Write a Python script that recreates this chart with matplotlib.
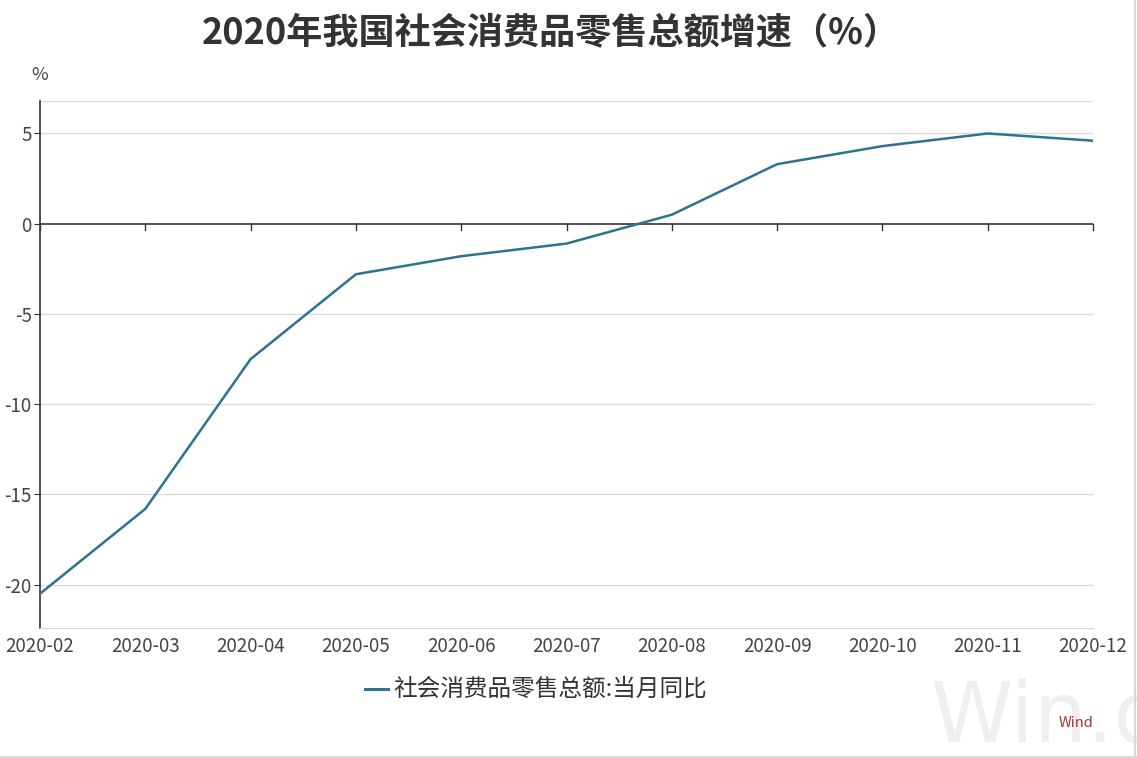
import matplotlib
matplotlib.use("Agg")
import matplotlib.pyplot as plt

months = ["2020-02", "2020-03", "2020-04", "2020-05", "2020-06", "2020-07",
          "2020-08", "2020-09", "2020-10", "2020-11", "2020-12"]
values = [-20.5, -15.8, -7.5, -2.8, -1.8, -1.1, 0.5, 3.3, 4.3, 5.0, 4.6]
yticks = [5, 0, -5, -10, -15, -20]
title = "2020年我国社会消费品零售总额增速（%）"
series_name = "社会消费品零售总额:当月同比"

plt.rcParams['font.family'] = ['Noto Sans CJK SC', 'DejaVu Sans']

W, H = 1137, 758
fig = plt.figure(figsize=(W / 100, H / 100), dpi=100)
ax = fig.add_axes([40 / W, (H - 628) / H, 1053 / W, 527 / H])

x = list(range(len(months)))
line_color = "#2b7390"
ax.plot(x, values, color=line_color, lw=1.8, zorder=3)

ax.set_xlim(0, len(months) - 1)
ax.set_ylim(-22.4, 6.8)
ax.set_yticks(yticks)
ax.set_yticklabels([str(v) for v in yticks], fontsize=13.5, color="#444444")
for v in yticks + [6.8]:
    if v != 0:
        ax.axhline(v, color="#dcdcdc", lw=1, zorder=1)
ax.axhline(0, color="#333333", lw=1.2, zorder=2)
ax.set_xticks(x)
ax.set_xticklabels([])
for xi in x:
    ax.plot([xi, xi], [0, -0.35], color="#333333", lw=1, zorder=2, clip_on=False)

for xi, m in zip(x, months):
    ax.text(xi, -22.4 - 0.45, m, ha="center", va="top", fontsize=13.5,
            color="#444444", clip_on=False)

for s in ["top", "right"]:
    ax.spines[s].set_visible(False)
ax.spines["left"].set_color("#333333")
ax.spines["left"].set_linewidth(1.2)
ax.spines["bottom"].set_color("#d0d0d0")
ax.tick_params(axis="x", length=0)
ax.tick_params(axis="y", length=4, color="#333333", pad=2)

fig.text(551 / W, 1 - 33 / H, title, ha="center", va="center", fontsize=26,
         fontweight="bold", color="#333333")
fig.text(40 / W, 1 - 75 / H, "%", ha="center", va="center", fontsize=13, color="#444444")

# watermark
fig.text(930 / W, 1 - 718 / H, "Win.d", ha="left", va="center", fontsize=60,
         color="#efefef", family=["DejaVu Sans"], zorder=0)
fig.text(1076 / W, 1 - 723 / H, "Wind", ha="center", va="center", fontsize=10.5,
         color="#b03030")

# legend
fig.add_artist(plt.Line2D([365 / W, 388 / W], [1 - 689 / H, 1 - 689 / H],
                          color=line_color, lw=2.2, transform=fig.transFigure))
fig.text(393 / W, 1 - 689 / H, series_name, ha="left", va="center",
         fontsize=17, color="#333333")

# right/bottom borders
fig.add_artist(plt.Line2D([1135 / W, 1135 / W], [0, 1], color="#d8d8d8", lw=1.5,
                          transform=fig.transFigure))
fig.add_artist(plt.Line2D([0, 1], [1.5 / H, 1.5 / H], color="#d8d8d8", lw=1.5,
                          transform=fig.transFigure))

fig.savefig("out.png", dpi=100)
